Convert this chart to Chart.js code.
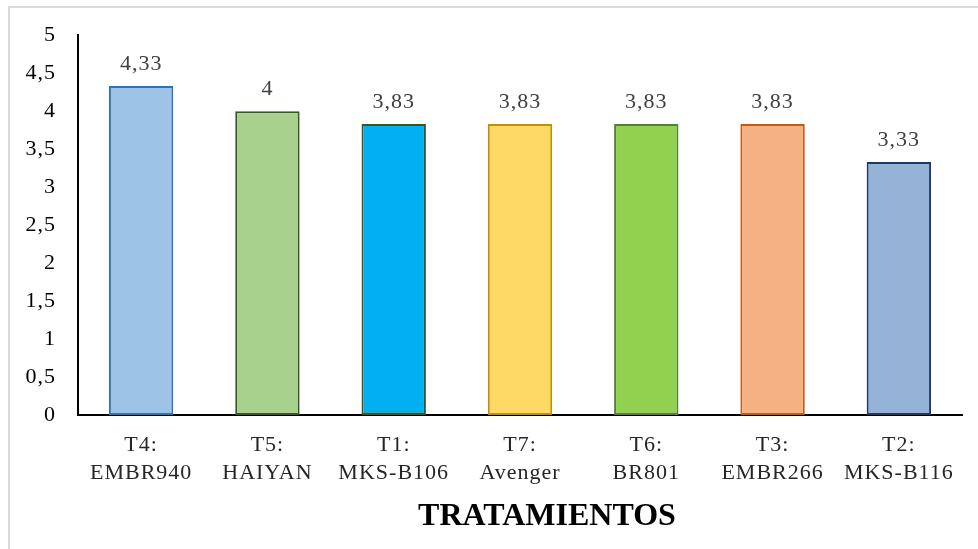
<!DOCTYPE html>
<html lang="es">
<head>
<meta charset="UTF-8">
<title>Tratamientos</title>
<script src="https://cdn.jsdelivr.net/npm/chart.js"></script>
<style>
    html, body { margin: 0; padding: 0; background: #fff; overflow: hidden; }
    #wrap { position: relative; width: 978px; height: 549px; }
    #frame {
        position: absolute; left: 8px; top: 6px; width: 1000px; height: 600px;
        border-top: 2px solid #d9d9d9; border-left: 2px solid #d9d9d9;
    }
    canvas { position: absolute; left: 0; top: 0; }
</style>
</head>
<body>
<div id="wrap">
    <div id="frame"></div>
    <canvas id="myChart" width="978" height="549"></canvas>
</div>
<script>
    const tratamientos = [
        ['T4:', 'EMBR940'],
        ['T5:', 'HAIYAN'],
        ['T1:', 'MKS-B106'],
        ['T7:', 'Avenger'],
        ['T6:', 'BR801'],
        ['T3:', 'EMBR266'],
        ['T2:', 'MKS-B116']
    ];
    const valores = [4.33, 4, 3.83, 3.83, 3.83, 3.83, 3.33];
    const rellenos = ['#9DC3E6', '#A9D18E', '#00B0F0', '#FFD966', '#92D050', '#F4B183', '#95B3D7'];
    const bordes = ['#2E75B6', '#385723', '#385723', '#BF9000', '#548235', '#C55A11', '#203864'];
    const tituloX = 'TRATAMIENTOS';

    const serif = "'Liberation Serif', 'Times New Roman', serif";
    const coma = v => String(v).replace('.', ',');

    // texto un poco más espaciado, como en Excel
    const espaciado = {
        id: 'espaciado',
        beforeDraw(chart) { chart.ctx.letterSpacing = '1px'; }
    };

    // valor encima de cada barra + título del eje X
    const etiquetas = {
        id: 'etiquetas',
        afterDatasetsDraw(chart) {
            const ctx = chart.ctx;
            const meta = chart.getDatasetMeta(0);
            ctx.save();
            ctx.font = '22px ' + serif;
            ctx.fillStyle = '#404040';
            ctx.textAlign = 'center';
            ctx.textBaseline = 'middle';
            meta.data.forEach((bar, i) => {
                ctx.fillText(coma(valores[i]), bar.x, bar.y - 22);
            });
            ctx.restore();
        },
        afterDraw(chart) {
            const ctx = chart.ctx;
            ctx.save();
            ctx.letterSpacing = '0px';
            ctx.font = 'bold 32px ' + serif;
            ctx.fillStyle = '#000';
            ctx.textAlign = 'center';
            ctx.textBaseline = 'middle';
            ctx.fillText(tituloX, 547, 517);
            ctx.restore();
        }
    };

    const ctx = document.getElementById('myChart').getContext('2d');
    new Chart(ctx, {
        type: 'bar',
        data: {
            labels: tratamientos,
            datasets: [{
                data: valores,
                backgroundColor: rellenos,
                borderColor: bordes,
                borderWidth: 2,
                borderSkipped: false,
                categoryPercentage: 1,
                barPercentage: 0.51
            }]
        },
        options: {
            responsive: false,
            animation: false,
            layout: { padding: { left: 0, right: 16, top: 35, bottom: 0 } },
            plugins: {
                legend: { display: false },
                tooltip: { enabled: false }
            },
            scales: {
                x: {
                    grid: { display: false, drawTicks: false },
                    border: { color: '#000', width: 2 },
                    ticks: {
                        color: '#262626',
                        padding: 16,
                        maxRotation: 0,
                        autoSkip: false,
                        font: { family: serif, size: 22, lineHeight: 1.27 }
                    },
                    afterFit(scale) { scale.height = 134; }
                },
                y: {
                    min: 0,
                    max: 5,
                    grid: { display: false, drawTicks: false },
                    border: { color: '#000', width: 2 },
                    ticks: {
                        stepSize: 0.5,
                        color: '#000',
                        padding: 22,
                        font: { family: serif, size: 22 },
                        callback: v => coma(v)
                    },
                    afterFit(scale) { scale.width = 78; }
                }
            }
        },
        plugins: [espaciado, etiquetas]
    });
</script>
</body>
</html>
